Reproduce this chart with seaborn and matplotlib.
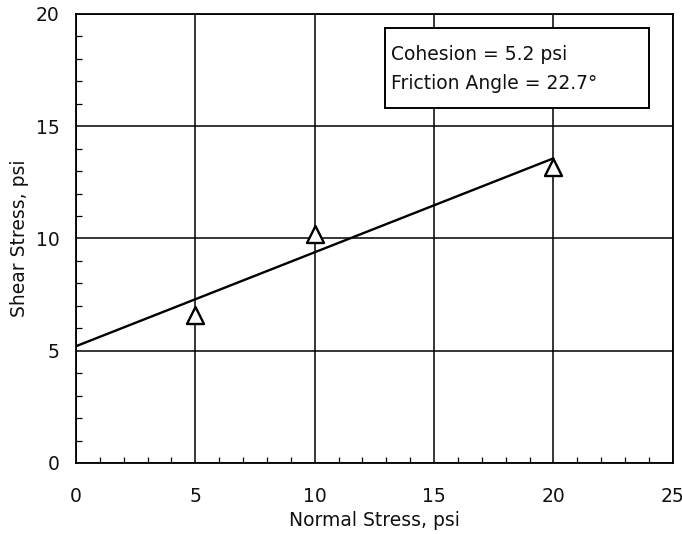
import numpy as np
import pandas as pd
import seaborn as sns
import matplotlib
matplotlib.use("Agg")
import matplotlib.pyplot as plt
from matplotlib.ticker import MultipleLocator
from matplotlib.patches import Rectangle

# Direct shear test results
normal_stress = [5, 10, 20]
shear_stress = [6.6, 10.2, 13.2]
cohesion = 5.2
friction_angle = 22.7
fit_range = [0, 20]

sns.set_theme(style="white")
plt.rcParams["font.family"] = ["DejaVu Sans"]

fig = plt.figure(figsize=(6.82, 5.34), dpi=100)
ax = fig.add_axes([0.1114, 0.133, 0.875, 0.841])

pts = pd.DataFrame({"Normal": normal_stress, "Shear": shear_stress})
fit_x = np.array(fit_range, dtype=float)
fit = pd.DataFrame({"Normal": fit_x,
                    "Shear": cohesion + fit_x * np.tan(np.radians(friction_angle))})

sns.lineplot(data=fit, x="Normal", y="Shear", color="black", linewidth=1.7, ax=ax, zorder=3)
sns.scatterplot(data=pts, x="Normal", y="Shear", marker="^", s=150,
                facecolor="white", edgecolor="black", linewidth=1.7, ax=ax, zorder=4)

ax.set_xlim(0, 25)
ax.set_ylim(0, 20)
ax.xaxis.set_major_locator(MultipleLocator(5))
ax.yaxis.set_major_locator(MultipleLocator(5))
ax.xaxis.set_minor_locator(MultipleLocator(1))
ax.yaxis.set_minor_locator(MultipleLocator(1))
ax.grid(True, which="major", color="black", linewidth=1.1)
ax.tick_params(which="major", length=0, labelsize=13.5, colors="#111111")
ax.tick_params(axis="x", which="major", pad=17)
ax.tick_params(axis="y", which="major", pad=12)
ax.tick_params(which="minor", direction="in", length=4, width=0.9, color="black",
               bottom=True, left=True, top=False, right=False)
for s in ax.spines.values():
    s.set_color("black")
    s.set_linewidth(1.3)

ax.set_xlabel("Normal Stress, psi", fontsize=13.5, color="#111111", labelpad=4)
ax.set_ylabel("Shear Stress, psi", fontsize=13.5, color="#111111", labelpad=5)

# Fit parameters box
ax.add_patch(Rectangle((0.518, 0.791), 0.443, 0.178, transform=ax.transAxes,
                       facecolor="white", edgecolor="black", linewidth=1.4, zorder=5))
ax.text(0.528, 0.909, f"Cohesion = {cohesion} psi", transform=ax.transAxes,
        fontsize=13.5, va="center", ha="left", color="#111111", zorder=6)
ax.text(0.528, 0.846, f"Friction Angle = {friction_angle}\u00b0", transform=ax.transAxes,
        fontsize=13.5, va="center", ha="left", color="#111111", zorder=6)

fig.savefig("out.png", dpi=100, facecolor="white")
